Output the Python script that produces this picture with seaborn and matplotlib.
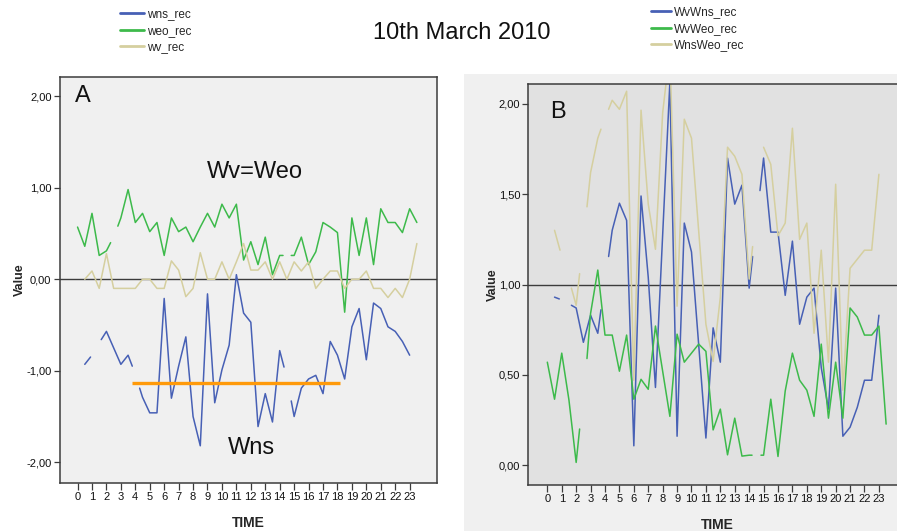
import numpy as np
import pandas as pd
import matplotlib
matplotlib.use("Agg")
import matplotlib.pyplot as plt
from matplotlib.patches import Rectangle
from matplotlib.ticker import FuncFormatter, FixedLocator
import seaborn as sns

nan = np.nan

# ---------------- data: panel A ----------------
A_wns_t = [0.5, 0.9, nan, 1.64, 2, 2.5, 3, 3.5, 3.79, nan, 4.3, 4.5, 5, 5.5, 6, 6.5, 7, 7.5, 8, 8.5,
           9, 9.5, 10, 10.5, 11, 11.5, 12, 12.5, 13, 13.5, 14, 14.3, nan, 14.8, 15, 15.5, 16, 16.5,
           17, 17.5, 18, 18.5, 19, 19.5, 20, 20.5, 21, 21.5, 22, 22.5, 23]
A_wns_v = [-0.93, -0.85, nan, -0.66, -0.57, -0.75, -0.93, -0.83, -0.95, nan, -1.19, -1.29, -1.46, -1.46,
           -0.21, -1.30, -0.95, -0.63, -1.50, -1.82, -0.16, -1.35, -0.99, -0.72, 0.05, -0.37, -0.47,
           -1.61, -1.25, -1.56, -0.78, -0.96, nan, -1.33, -1.50, -1.19, -1.09, -1.05, -1.25, -0.68,
           -0.83, -1.09, -0.52, -0.32, -0.88, -0.26, -0.32, -0.52, -0.57, -0.68, -0.83]

A_weo_t = [0, 0.5, 1, 1.5, 2, 2.29, nan, 2.79, 3, 3.5, 4, 4.5, 5, 5.5, 6, 6.5, 7, 7.5, 8, 8.5, 9, 9.5,
           10, 10.5, 11, 11.5, 12, 12.5, 13, 13.5, 14, 14.23, nan, 14.8, 15, 15.5, 16, 16.5, 17, 17.5,
           18, 18.5, 19, 19.5, 20, 20.5, 21, 21.5, 22, 22.5, 23, 23.5]
A_weo_v = [0.57, 0.36, 0.72, 0.26, 0.31, 0.40, nan, 0.58, 0.67, 0.98, 0.62, 0.72, 0.52, 0.62, 0.26,
           0.67, 0.52, 0.57, 0.41, 0.57, 0.72, 0.57, 0.82, 0.67, 0.82, 0.21, 0.41, 0.16, 0.46, 0.05,
           0.26, 0.26, nan, 0.26, 0.26, 0.46, 0.16, 0.30, 0.62, 0.57, 0.51, -0.36, 0.67, 0.26, 0.67,
           0.16, 0.77, 0.62, 0.62, 0.51, 0.77, 0.62]

A_wv_t = [0.5, 1, 1.5, 2, 2.5, 3, 3.5, 4, 4.5, 5, 5.5, 6, 6.5, 7, 7.5, 8, 8.5, 9, 9.5, 10, 10.5, 11,
          11.5, 12, 12.5, 13, 13.5, 14, 14.5, 15, 15.5, 16, 16.5, 17, 17.5, 18, 18.5, 19, 19.5, 20,
          20.5, 21, 21.5, 22, 22.5, 23, 23.5]
A_wv_v = [0.0, 0.09, -0.10, 0.28, -0.10, -0.10, -0.10, -0.10, 0.0, 0.0, -0.10, -0.10, 0.20, 0.10,
          -0.19, -0.10, 0.29, 0.0, 0.0, 0.19, 0.0, 0.19, 0.39, 0.10, 0.10, 0.19, 0.0, 0.19, 0.0, 0.19,
          0.09, 0.19, -0.10, 0.0, 0.09, 0.09, -0.10, 0.0, 0.0, 0.09, -0.10, -0.10, -0.20, -0.10,
          -0.20, 0.0, 0.39]

ORANGE_T = [3.8, 18.2]
ORANGE_V = [-1.13, -1.13]

# ---------------- data: panel B ----------------
B_wvwns_t = [0.5, 0.83, nan, 1.67, 2, 2.5, 3, 3.5, 3.72, nan, 4.25, 4.5, 5, 5.5, 6, 6.5, 7, 7.5, 8.5,
             9, 9.5, 10, 11, 11.5, 12, 12.5, 13, 13.5, 14, 14.24, nan, 14.75, 15, 15.5, 16, 16.5, 17,
             17.5, 18, 18.5, 19, 19.5, 20, 20.5, 21, 21.5, 22, 22.5, 23]
B_wvwns_v = [0.93, 0.92, nan, 0.885, 0.87, 0.68, 0.83, 0.73, 0.86, nan, 1.155, 1.30, 1.45, 1.355,
             0.107, 1.49, 1.04, 0.43, 2.12, 0.16, 1.34, 1.18, 0.15, 0.76, 0.57, 1.70, 1.445, 1.55,
             0.98, 1.155, nan, 1.52, 1.70, 1.29, 1.29, 0.94, 1.24, 0.78, 0.93, 0.98, 0.54, 0.31,
             0.98, 0.16, 0.21, 0.32, 0.47, 0.47, 0.83]

B_wvweo_t = [0, 0.5, 1, 1.5, 2, 2.24, nan, 2.75, 3, 3.5, 4, 4.5, 5, 5.5, 6, 6.5, 7, 7.5, 8.5, 9, 9.5,
             10.5, 11, 11.5, 12, 12.5, 13, 13.5, 14, 14.2, nan, 14.82, 15, 15.5, 16, 16.5, 17, 17.5,
             18, 18.5, 19, 19.5, 20, 20.5, 21, 21.5, 22, 22.5, 23, 23.5]
B_wvweo_v = [0.57, 0.365, 0.62, 0.36, 0.015, 0.20, nan, 0.59, 0.84, 1.08, 0.72, 0.72, 0.52, 0.72,
             0.365, 0.475, 0.42, 0.77, 0.27, 0.725, 0.57, 0.67, 0.63, 0.195, 0.31, 0.057, 0.26, 0.05,
             0.055, 0.055, nan, 0.055, 0.055, 0.365, 0.048, 0.41, 0.62, 0.47, 0.415, 0.27, 0.67,
             0.26, 0.57, 0.26, 0.87, 0.82, 0.72, 0.72, 0.77, 0.227]

B_wnsweo_t = [0.5, 0.88, nan, 1.67, 2, 2.24, nan, 2.75, 3, 3.5, 3.72, nan, 4.25, 4.5, 5, 5.5, 6, 6.5,
              7, 7.5, 8, 8.5, 9, 9.5, 10, 11, 11.5, 12, 12.5, 13, 13.5, 14, 14.24, nan, 15, 15.5, 16,
              16.5, 17, 17.5, 18, 18.5, 19, 19.5, 20, 20.5, 21, 21.5, 22, 22.5, 23]
B_wnsweo_v = [1.30, 1.19, nan, 0.98, 0.885, 1.06, nan, 1.43, 1.62, 1.81, 1.86, nan, 1.97, 2.02, 1.97,
              2.07, 0.47, 1.965, 1.445, 1.195, 1.95, 2.3, 0.88, 1.915, 1.81, 0.78, 0.574, 0.93, 1.76,
              1.71, 1.61, 1.03, 1.21, nan, 1.76, 1.665, 1.27, 1.34, 1.865, 1.25, 1.34, 0.73, 1.19,
              0.57, 1.555, 0.415, 1.09, 1.14, 1.19, 1.19, 1.61]

X_TICKS = list(range(0, 24))
A_Y_TICKS = [-2, -1, 0, 1, 2]
B_Y_TICKS = [0, 0.5, 1, 1.5, 2]

BLUE, GREEN, BEIGE, ORANGE = "#4760b5", "#3dba4b", "#d5cf9f", "#ff9a0a"
FRAME = "#3c3c3c"


def long_form(series):
    frames = []
    for name, (t, v) in series.items():
        t = np.asarray(t, float)
        v = np.asarray(v, float)
        seg = np.cumsum(np.isnan(v))
        m = ~np.isnan(v)
        frames.append(pd.DataFrame({"TIME": t[m], "Value": v[m], "seg": seg[m], "series": name}))
    return pd.concat(frames, ignore_index=True)


sns.set_theme(style="white")
plt.rcParams["font.family"] = ["Liberation Sans", "DejaVu Sans"]

fig = plt.figure(figsize=(8.97, 5.31), dpi=100)
W, H = 897.0, 531.0
fig.patches.append(Rectangle((464 / W, 0), 1 - 464 / W, (H - 74) / H, transform=fig.transFigure,
                             facecolor="#f0f0f0", edgecolor="none", zorder=-5))

axA = fig.add_axes([59.5 / W, (H - 483.3) / H, 377 / W, 406.3 / H])
axB = fig.add_axes([528.3 / W, (H - 485) / H, 378 / W, 401 / H])
axA.set_facecolor("#f0f0f0")
axB.set_facecolor("#e1e1e1")

dfA = long_form({"wns_rec": (A_wns_t, A_wns_v), "weo_rec": (A_weo_t, A_weo_v),
                 "wv_rec": (A_wv_t, A_wv_v)})
dfB = long_form({"WvWns_rec": (B_wvwns_t, B_wvwns_v), "WvWeo_rec": (B_wvweo_t, B_wvweo_v),
                 "WnsWeo_rec": (B_wnsweo_t, B_wnsweo_v)})

sns.lineplot(data=dfA, x="TIME", y="Value", hue="series", units="seg", estimator=None, sort=False,
             hue_order=["wns_rec", "weo_rec", "wv_rec"], palette=[BLUE, GREEN, BEIGE],
             linewidth=1.1, ax=axA)
sns.lineplot(data=dfB, x="TIME", y="Value", hue="series", units="seg", estimator=None, sort=False,
             hue_order=["WvWns_rec", "WvWeo_rec", "WnsWeo_rec"], palette=[BLUE, GREEN, BEIGE],
             linewidth=1.1, ax=axB)

axA.plot(ORANGE_T, ORANGE_V, color=ORANGE, lw=2.4, solid_capstyle="butt", zorder=5)
axA.axhline(0, color=FRAME, lw=1.0, zorder=1)
axB.axhline(1, color=FRAME, lw=1.0, zorder=1)

axA.set_xlim(-1.25, 24.86)
axA.set_ylim(-2.23, 2.21)
axB.set_xlim(-1.32, 24.9)
axB.set_ylim(-0.11, 2.11)

fmt = FuncFormatter(lambda v, p: f"{v:.2f}".replace(".", ","))
for ax, yt in ((axA, A_Y_TICKS), (axB, B_Y_TICKS)):
    ax.xaxis.set_major_locator(FixedLocator(X_TICKS))
    ax.yaxis.set_major_locator(FixedLocator(yt))
    ax.yaxis.set_major_formatter(fmt)
    ax.tick_params(axis="x", bottom=True, length=4.8, width=0.9, color=FRAME, labelsize=8,
                   pad=1.5, labelcolor="#111111")
    ax.tick_params(axis="y", left=True, length=4.3, width=0.9, color=FRAME, labelsize=8,
                   pad=1.5, labelcolor="#111111")
    for s in ax.spines.values():
        s.set_color(FRAME)
        s.set_linewidth(1.1)
    ax.set_xlabel("TIME", fontsize=10, fontweight="bold", labelpad=10)
    ax.set_ylabel("Value", fontsize=9, fontweight="bold", labelpad=0)
    ax.grid(False)

# legends
for ax, x0, y0, hl in ((axA, 120 / W, 1 - 8 / H, 2.0), (axB, 651 / W, 1 - 6 / H, 1.7)):
    h, l = ax.get_legend_handles_labels()
    ax.get_legend().remove()
    leg = fig.legend(h, l, loc="upper left", bbox_to_anchor=(x0, y0), frameon=False,
                     fontsize=8.5, handlelength=hl, handletextpad=0.25, labelspacing=0.4,
                     borderpad=0, borderaxespad=0)
    for ln in leg.get_lines():
        ln.set_linewidth(2.0)

fig.text(462 / W, 1 - 33 / H, "10th March 2010", ha="center", va="center", fontsize=17,
         color="#111111")
axA.text(0.041, 0.953, "A", transform=axA.transAxes, ha="left", va="center", fontsize=17,
         color="#111111")
axA.text(0.519, 0.766, "Wv=Weo", transform=axA.transAxes, ha="center", va="center", fontsize=17,
         color="#111111")
axA.text(0.508, 0.087, "Wns", transform=axA.transAxes, ha="center", va="center", fontsize=17,
         color="#111111")
axB.text(0.057, 0.930, "B", transform=axB.transAxes, ha="left", va="center", fontsize=17,
         color="#111111")

fig.savefig("out.png", dpi=100)
